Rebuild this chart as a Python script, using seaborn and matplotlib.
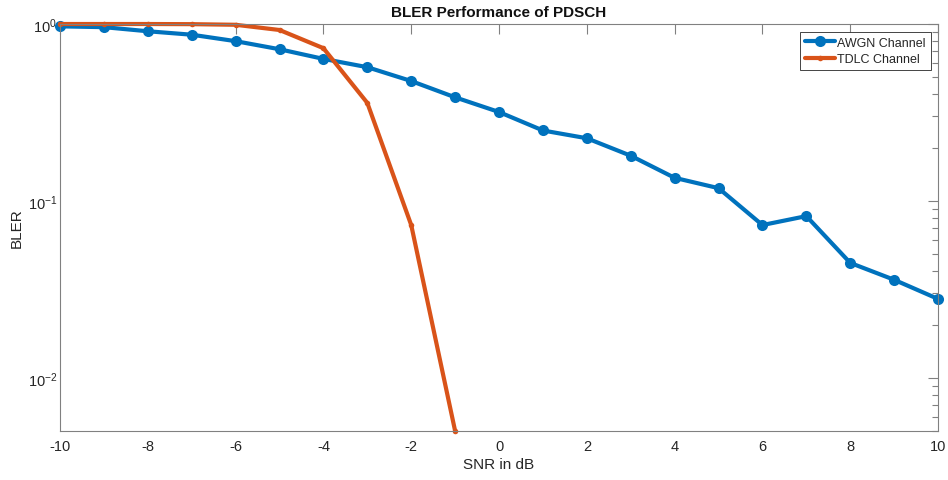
import numpy as np
import pandas as pd
import matplotlib
matplotlib.use("Agg")
import matplotlib.pyplot as plt
import seaborn as sns
from matplotlib.ticker import LogLocator, NullFormatter

snr_db = [-10, -9, -8, -7, -6, -5, -4, -3, -2, -1, 0, 1, 2, 3, 4, 5, 6, 7, 8, 9, 10]
bler_awgn = [0.97, 0.96, 0.91, 0.87, 0.80, 0.72, 0.635, 0.57, 0.476, 0.385, 0.318,
             0.25, 0.226, 0.18, 0.135, 0.118, 0.073, 0.082, 0.0446, 0.0358, 0.0279]
snr_tdlc = [-10, -9, -8, -7, -6, -5, -4, -3, -2, -1]
bler_tdlc = [1.0, 1.0, 1.0, 0.998, 0.99, 0.925, 0.73, 0.358, 0.073, 0.005]

df_awgn = pd.DataFrame({"snr": snr_db, "bler": bler_awgn})
df_tdlc = pd.DataFrame({"snr": snr_tdlc, "bler": bler_tdlc})

sns.set_style("white")
plt.rcParams['font.family'] = ['Liberation Sans', 'DejaVu Sans']
plt.rcParams['axes.unicode_minus'] = False
axis_col = "#262626"

fig = plt.figure(figsize=(9.48, 4.81), dpi=100)
ax = fig.add_axes([0.0633, 0.1019, 0.9262, 0.8461])

sns.lineplot(data=df_awgn, x="snr", y="bler", ax=ax, color="#0072BD", linewidth=3,
             marker="o", markersize=8, markeredgewidth=0, label="AWGN Channel", clip_on=False)
sns.lineplot(data=df_tdlc, x="snr", y="bler", ax=ax, color="#D95319", linewidth=3,
             marker="o", markersize=4, markeredgewidth=0, label="TDLC Channel", clip_on=False)

ax.set_yscale("log")
ax.set_xlim(-10, 10)
ax.set_ylim(0.005, 1)
ax.set_xticks(range(-10, 11, 2))
ax.yaxis.set_major_locator(LogLocator(base=10, numticks=10))
ax.yaxis.set_minor_locator(LogLocator(base=10, subs=np.arange(2, 10), numticks=10))
ax.yaxis.set_minor_formatter(NullFormatter())

for s in ax.spines.values():
    s.set_color("#808080")
    s.set_linewidth(0.8)
    s.set_visible(True)
ax.tick_params(which="both", direction="in", top=True, right=True, colors="#808080",
               labelcolor=axis_col, labelsize=10.5)
ax.tick_params(which="major", length=7, width=0.8)
ax.tick_params(axis="x", which="major", pad=6)
ax.tick_params(axis="y", which="major", pad=2)
ax.tick_params(which="minor", length=4, width=0.8)

ax.set_xlabel("SNR in dB", fontsize=11, color=axis_col, labelpad=3)
ax.set_ylabel("BLER", fontsize=11, color=axis_col, labelpad=3)
ax.set_title("BLER Performance of PDSCH", fontsize=11, fontweight="bold", color="#111111", pad=6)

leg = ax.legend(loc="upper right", fontsize=9, frameon=True, fancybox=False,
                edgecolor="#262626", framealpha=1, borderaxespad=0.6, handlelength=2.4,
                borderpad=0.4, labelspacing=0.35, handletextpad=0.2)
leg.get_frame().set_linewidth(0.6)

fig.savefig("out.png", dpi=100)
